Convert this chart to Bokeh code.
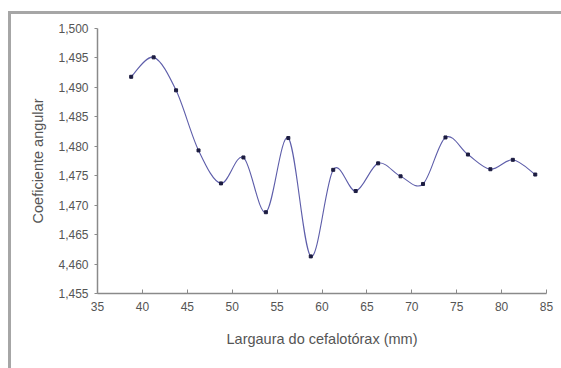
from bokeh.plotting import figure
from bokeh.models import FixedTicker, CustomJSTickFormatter, Range1d, ColumnDataSource
from bokeh.embed import file_html
from bokeh.resources import INLINE

# Data
largura = [38.75, 41.25, 43.75, 46.25, 48.75, 51.25, 53.75, 56.25, 58.75, 61.25,
           63.75, 66.25, 68.75, 71.25, 73.75, 76.25, 78.75, 81.25, 83.75]
coeficiente = [1.4918, 1.4951, 1.4895, 1.4793, 1.4737, 1.4781, 1.4688, 1.4814, 1.4613, 1.4760,
               1.4724, 1.4771, 1.4749, 1.4736, 1.4815, 1.4786, 1.4761, 1.4777, 1.4752]
x_ticks = [35, 40, 45, 50, 55, 60, 65, 70, 75, 80, 85]
y_ticks = [1.455, 1.460, 1.465, 1.470, 1.475, 1.480, 1.485, 1.490, 1.495, 1.500]
y_tick_labels = ["1,455", "4,460", "1,465", "1,470", "1,475", "1,480", "1,485", "1,490", "1,495", "1,500"]

FONT = "Liberation Sans"
TXT = "#555555"
AX = "#8a8a8a"

p = figure(width=553, height=357, output_backend="svg", toolbar_location=None,
           x_range=Range1d(35, 85), y_range=Range1d(1.455, 1.500),
           min_border_left=89, min_border_right=15, min_border_top=17, min_border_bottom=75)
p.margin = (11, 0, 0, 8)
p.styles = {"box-shadow": "inset 3px 3px 0 #a6a6a6"}
p.background_fill_color = "white"
p.border_fill_alpha = 0
p.outline_line_color = None
p.xgrid.visible = False
p.ygrid.visible = False

# Smoothed line (cubic Bezier segments through the data points)
n = len(largura)
x0, y0, x1, y1, cx0, cy0, cx1, cy1 = [], [], [], [], [], [], [], []
for i in range(n - 1):
    xa, ya = largura[i], coeficiente[i]
    xb, yb = largura[i + 1], coeficiente[i + 1]
    xp, yp = (largura[i - 1], coeficiente[i - 1]) if i > 0 else (xa, ya)
    xn, yn = (largura[i + 2], coeficiente[i + 2]) if i + 2 < n else (xb, yb)
    x0.append(xa); y0.append(ya); x1.append(xb); y1.append(yb)
    cx0.append(xa + (xb - xp) / 6); cy0.append(ya + (yb - yp) / 6)
    cx1.append(xb - (xn - xa) / 6); cy1.append(yb - (yn - ya) / 6)
src = ColumnDataSource(dict(x0=x0, y0=y0, x1=x1, y1=y1, cx0=cx0, cy0=cy0, cx1=cx1, cy1=cy1))
p.bezier(x0="x0", y0="y0", x1="x1", y1="y1", cx0="cx0", cy0="cy0", cx1="cx1", cy1="cy1",
         source=src, line_color="#5e5eaa", line_width=1.1)
p.scatter(largura, coeficiente, marker="square", size=3, color="#1c1c40")

# Axes
p.xaxis.ticker = FixedTicker(ticks=x_ticks)
p.yaxis.ticker = FixedTicker(ticks=y_ticks)
p.yaxis.formatter = CustomJSTickFormatter(args=dict(labels=y_tick_labels),
                                          code="return labels[Math.round((tick - 1.455) / 0.005)];")
p.xaxis.axis_label = "Largaura do cefalotórax (mm)"
p.yaxis.axis_label = "Coeficiente angular"
for ax in (p.xaxis, p.yaxis):
    ax.axis_line_color = AX
    ax.axis_line_width = 1.5
    ax.major_tick_line_color = AX
    ax.minor_tick_line_color = None
    ax.major_label_text_font = FONT
    ax.major_label_text_font_size = "12px"
    ax.major_label_text_color = TXT
    ax.axis_label_text_font = FONT
    ax.axis_label_text_font_size = "14.5px"
    ax.axis_label_text_color = TXT
    ax.axis_label_text_font_style = "normal"
p.xaxis.major_tick_in = 4
p.xaxis.major_tick_out = 0
p.xaxis.major_label_standoff = 8
p.xaxis.axis_label_standoff = 17
p.yaxis.major_tick_in = 0
p.yaxis.major_tick_out = 3
p.yaxis.major_label_standoff = 6
p.yaxis.axis_label_standoff = 9

open("out.html", "w").write(file_html(p, INLINE))
